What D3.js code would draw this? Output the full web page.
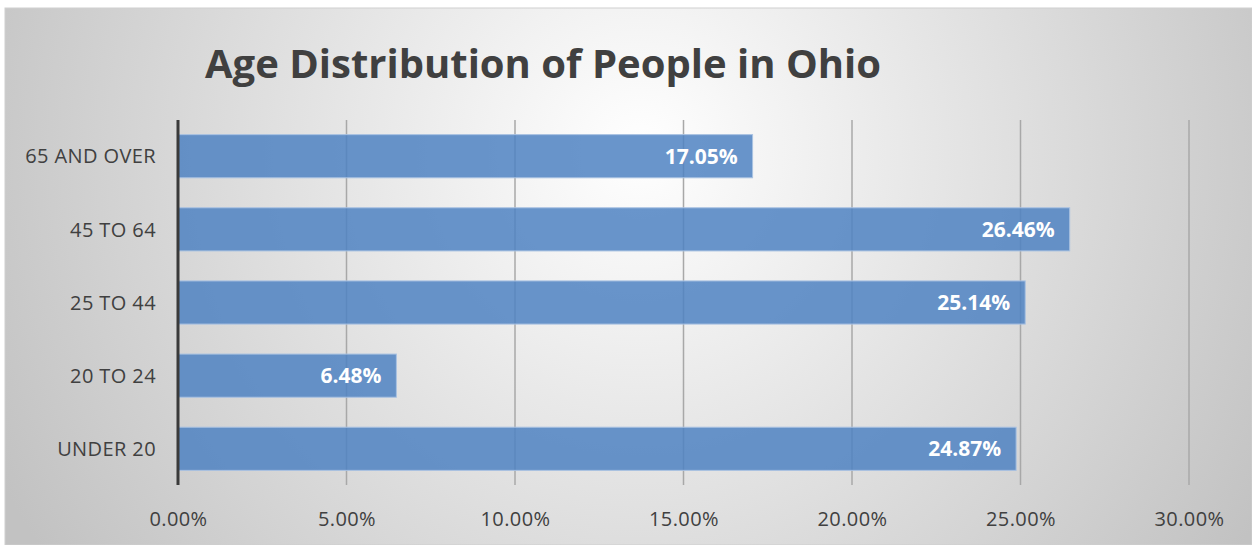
<!DOCTYPE html>
<html>
<head>
<meta charset="utf-8">
<script src="https://cdn.jsdelivr.net/npm/d3@7"></script>
<style>
body{margin:0;background:#fff;}
svg{display:block;}
</style>
</head>
<body>
<div id="chart-area"></div>
<script>
var categories=["65 AND OVER","45 TO 64","25 TO 44","20 TO 24","UNDER 20"];
var values=[17.05,26.46,25.14,6.48,24.87];
var tickValues=[0,5,10,15,20,25,30];

var W=1252,H=545;
var margin={left:178,right:63,top:120,bottom:60};
var font="'Open Sans', sans-serif";

var svg=d3.select("#chart-area").append("svg")
	.attr("width",W)
	.attr("height",H);

var grad=svg.append("defs").append("radialGradient")
	.attr("id","bg")
	.attr("gradientUnits","userSpaceOnUse")
	.attr("cx",640).attr("cy",150).attr("r",720);
grad.append("stop").attr("offset","0%").attr("stop-color","#ffffff");
grad.append("stop").attr("offset","100%").attr("stop-color","#c2c2c2");

svg.append("rect")
	.attr("x",5).attr("y",8)
	.attr("width",W-5).attr("height",H-8)
	.attr("fill","url(#bg)")
	.attr("stroke","#cfcfcf");

var x=d3.scaleLinear()
	.domain([0,30])
	.range([margin.left,W-margin.right]);

var y=d3.scaleBand()
	.domain(categories)
	.range([margin.top,H-margin.bottom])
	.paddingInner(0.41)
	.paddingOuter(0.2);

// gridlines
svg.append("g")
	.selectAll("line")
	.data(tickValues.slice(1))
	.enter().append("line")
	.attr("x1",d=>x(d)).attr("x2",d=>x(d))
	.attr("y1",margin.top).attr("y2",H-margin.bottom)
	.attr("stroke","#a8a8a8")
	.attr("stroke-width",1.5);

var data=categories.map((c,i)=>({cat:c,val:values[i]}));

svg.append("g")
	.selectAll("rect")
	.data(data)
	.enter().append("rect")
	.attr("x",x(0))
	.attr("y",d=>y(d.cat))
	.attr("width",d=>x(d.val)-x(0))
	.attr("height",y.bandwidth())
	.attr("fill","#4f82c2")
	.attr("fill-opacity",0.85)
	.attr("stroke","#a9c2e2")
	.attr("stroke-width",1);

svg.append("g")
	.selectAll("text")
	.data(data)
	.enter().append("text")
	.attr("x",d=>x(d.val)-15)
	.attr("y",d=>y(d.cat)+y.bandwidth()/2)
	.attr("dy","0.36em")
	.attr("text-anchor","end")
	.attr("fill","#ffffff")
	.attr("font-family",font)
	.attr("font-weight","bold")
	.attr("font-size","21px")
	.text(d=>d.val.toFixed(2)+"%");

// category axis
svg.append("line")
	.attr("x1",x(0)).attr("x2",x(0))
	.attr("y1",margin.top).attr("y2",H-margin.bottom)
	.attr("stroke","#3a3a3a")
	.attr("stroke-width",3);

svg.append("g")
	.selectAll("text")
	.data(categories)
	.enter().append("text")
	.attr("x",x(0)-22)
	.attr("y",d=>y(d)+y.bandwidth()/2)
	.attr("dy","0.36em")
	.attr("text-anchor","end")
	.attr("fill","#404040")
	.attr("font-family",font)
	.attr("font-size","20px")
	.attr("letter-spacing","0.4px")
	.text(d=>d);

var bottomAxis=d3.axisBottom(x)
	.tickValues(tickValues)
	.tickSize(0)
	.tickPadding(27)
	.tickFormat(d=>d.toFixed(2)+"%");

var ax=svg.append("g")
	.attr("transform","translate(0,"+(H-margin.bottom)+")")
	.call(bottomAxis);
ax.select(".domain").remove();
ax.selectAll("text")
	.attr("fill","#404040")
	.attr("font-family",font)
	.attr("font-size","20px")
	.attr("letter-spacing","0.4px");

svg.append("text")
	.attr("x",543)
	.attr("y",78)
	.attr("text-anchor","middle")
	.attr("fill","#404040")
	.attr("font-family",font)
	.attr("font-weight","bold")
	.attr("font-size","40px")
	.text("Age Distribution of People in Ohio");
</script>
</body>
</html>
